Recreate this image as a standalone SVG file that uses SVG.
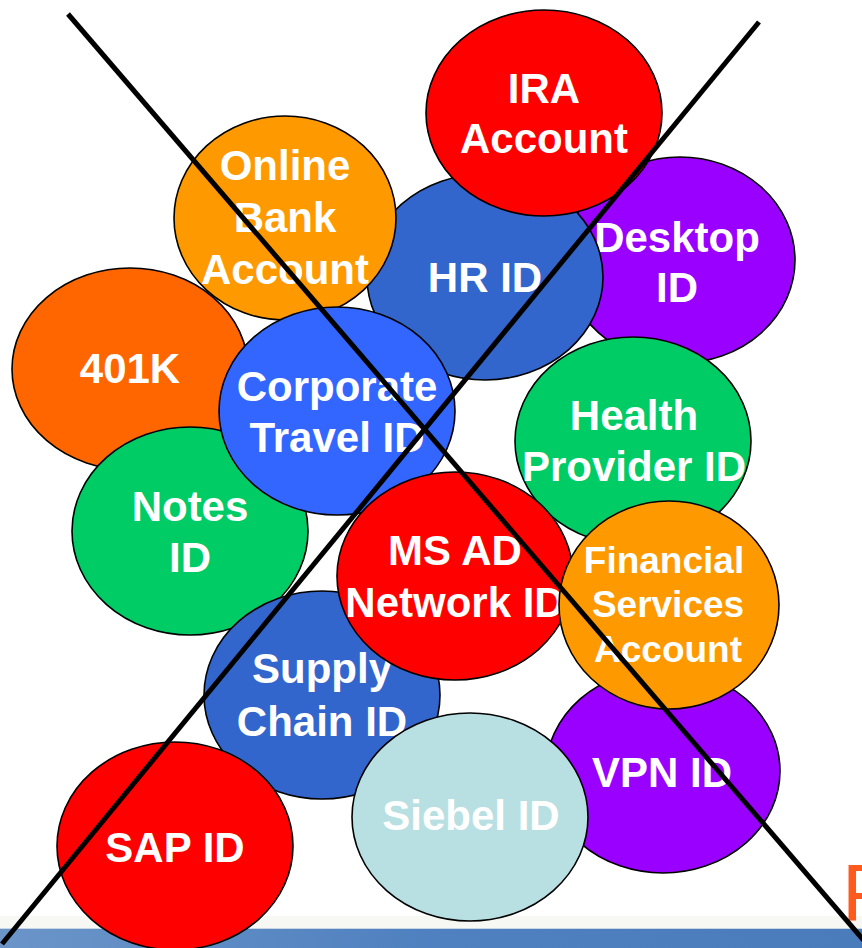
<svg xmlns="http://www.w3.org/2000/svg" width="862" height="948" viewBox="0 0 862 948">
<defs>
<style>
.n{stroke:#000;stroke-width:1.6}
.t{font-family:"Liberation Sans",Arial,sans-serif;font-weight:bold;font-size:42px;fill:#fff;text-anchor:middle}
.s{font-size:37px}
.x{stroke:#000;stroke-width:5;fill:none}
</style>
<linearGradient id="bar" x1="0" y1="0" x2="1" y2="0">
<stop offset="0" stop-color="#6b95c9"/>
<stop offset="0.5" stop-color="#4f80bf"/>
<stop offset="1" stop-color="#4a7bbb"/>
</linearGradient>
</defs>
<rect width="862" height="948" fill="#fff"/>
<rect x="0" y="916" width="862" height="12" fill="#f7f7f3"/>
<rect x="0" y="928" width="862" height="20" fill="url(#bar)"/>
<line x1="0" y1="928.5" x2="862" y2="928.5" stroke="#c9d6e6" stroke-width="1"/>
<text x="842" y="920" font-family="Liberation Sans,Arial,sans-serif" font-size="80" fill="#ff5a1e">P</text>

<g id="desktop"><ellipse class="n" cx="680" cy="260" rx="115" ry="103" fill="#9900ff"/><text class="t" x="677" y="252">Desktop</text><text class="t" x="677" y="302">ID</text></g>
<g id="hr"><ellipse class="n" cx="485" cy="277" rx="118" ry="103" fill="#3366cc"/><text class="t" x="485" y="292">HR ID</text></g>
<g id="ira"><ellipse class="n" cx="544" cy="113" rx="118" ry="103" fill="#ff0000"/><text class="t" x="544" y="103">IRA</text><text class="t" x="544" y="153">Account</text></g>
<g id="k401"><ellipse class="n" cx="130" cy="369" rx="118" ry="101" fill="#ff6600"/><text class="t" x="130" y="383">401K</text></g>
<g id="onlinebank"><ellipse class="n" cx="285" cy="218" rx="111" ry="102" fill="#ff9900"/><text class="t" x="285" y="180">Online</text><text class="t" x="285" y="232">Bank</text><text class="t" x="285" y="284">Account</text></g>
<g id="notes"><ellipse class="n" cx="190" cy="531" rx="118" ry="104" fill="#00cc66"/><text class="t" x="190" y="521">Notes</text><text class="t" x="190" y="572">ID</text></g>
<g id="corptravel"><ellipse class="n" cx="337" cy="411" rx="118" ry="104" fill="#3366ff"/><text class="t" x="337" y="401">Corporate</text><text class="t" x="337" y="452">Travel ID</text></g>
<g id="health"><ellipse class="n" cx="633" cy="441" rx="118" ry="104" fill="#00cc66"/><text class="t" x="634" y="430">Health</text><text class="t" x="634" y="481">Provider ID</text></g>
<g id="supplychain"><ellipse class="n" cx="322" cy="695" rx="118" ry="104" fill="#3366cc"/><text class="t" x="322" y="683">Supply</text><text class="t" x="322" y="736">Chain ID</text></g>
<g id="msad"><ellipse class="n" cx="455" cy="576" rx="118" ry="104" fill="#ff0000"/><text class="t" x="455" y="565">MS AD</text><text class="t" x="455" y="617">Network ID</text></g>
<g id="vpn"><ellipse class="n" cx="663" cy="771" rx="117" ry="102" fill="#9900ff"/><text class="t" x="662" y="787">VPN ID</text></g>
<g id="financial"><ellipse class="n" cx="669" cy="605" rx="110" ry="104" fill="#ff9900"/><text class="t s" x="664" y="573">Financial</text><text class="t s" x="668" y="617">Services</text><text class="t s" x="668" y="662">Account</text></g>
<g id="siebel"><ellipse class="n" cx="470" cy="817" rx="118" ry="104" fill="#b8dfe2"/><text class="t" x="471" y="830" fill="#f4fafa">Siebel ID</text></g>
<g id="sap"><ellipse class="n" cx="175" cy="846" rx="118" ry="104" fill="#ff0000"/><text class="t" x="175" y="862">SAP ID</text></g>

<g id="connectors">
<line class="x" x1="68" y1="14" x2="866" y2="943"/>
<line class="x" x1="759" y1="22" x2="2" y2="944"/>
</g>
</svg>
